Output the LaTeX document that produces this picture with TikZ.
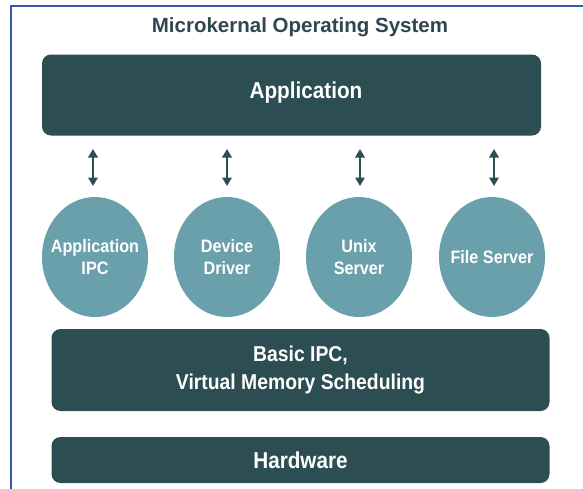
\documentclass[tikz,border=0pt]{standalone}
\usepackage{fontspec}
% narrow bold sans for the labels, plain-width bold for the heading
\setmainfont{Liberation Sans}[FakeStretch=0.9]
\newfontfamily\headfont{Liberation Sans}
\usetikzlibrary{arrows.meta,shapes.geometric}
\definecolor{slate}{HTML}{2C4D52}
\definecolor{teal}{HTML}{6A9FAC}
\definecolor{frame}{HTML}{2F5AA8}
\definecolor{titlecol}{HTML}{2F474D}
\tikzset{
  layer/.style={draw=none, fill=slate, rounded corners=9pt, text=white,
    align=center, inner sep=0pt},
  layertext/.style={text=white, align=center, inner sep=0pt,
    font=\bfseries\fontsize{23}{28}\selectfont},
  svc/.style={ellipse, fill=teal, text=white, minimum width=106pt,
    minimum height=120pt, inner sep=-15pt, align=center,
    font=\bfseries\fontsize{18}{22}\selectfont},
  biarrow/.style={draw=slate, line width=1.8pt,
    {Triangle[length=8.5pt,width=9.5pt]}-{Triangle[length=8.5pt,width=9.5pt]}},
}
\begin{document}
\begin{tikzpicture}[x=1pt,y=-1pt]
\useasboundingbox (0,0) rectangle (583,488);
\fill[white] (0,0) rectangle (583,488);
% outer frame (open on the right and bottom)
\draw[frame, line width=2.2pt] (11,489) -- (11,6) -- (584,6);

\node[text=titlecol, font=\headfont\bfseries\fontsize{20.5}{24}\selectfont] (title) at (300,27) {Microkernal Operating System};

% user-space layer
\node[layer, minimum width=499pt, minimum height=81pt] (app) at (291.5,95) {};
\node[layertext] (apptext) at (306,93) {Application};

% servers
\node[svc] (c1) at (95,257) {Application\\IPC};
\node[svc] (c2) at (227,257) {Device\\Driver};
\node[svc] (c3) at (359,257) {Unix\\Server};
\node[svc] (c4) at (492,257) {File Server};

\foreach \c/\x in {c1/93,c2/227,c3/360,c4/494}{
  \coordinate (\c top) at (\x,149);
  \coordinate (\c bot) at (\x,186);
  \draw[biarrow] (\c top) -- (\c bot);
}

% kernel and hardware layers
\node[layer, minimum width=498pt, minimum height=82pt,
      font=\bfseries\fontsize{21.5}{28}\selectfont] (kernel) at (300.5,370) {Basic IPC,\\Virtual Memory Scheduling};
\node[layer, minimum width=498pt, minimum height=46pt,
      font=\bfseries\fontsize{23}{28}\selectfont] (hw) at (300.5,460) {Hardware};
\end{tikzpicture}
\end{document}
